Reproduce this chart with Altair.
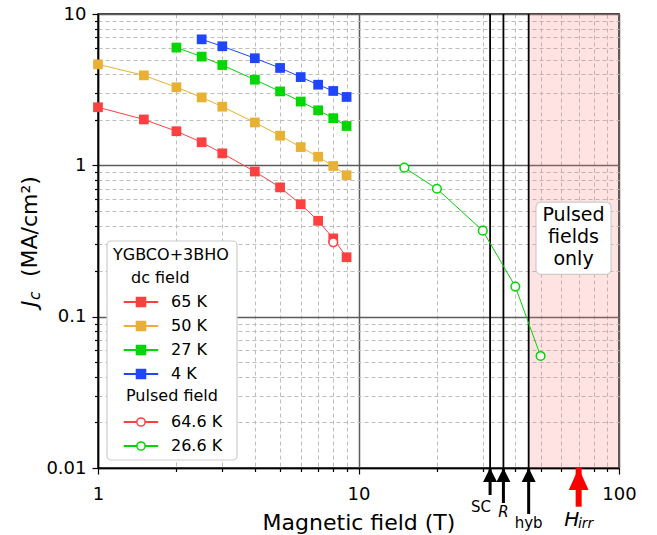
import altair as alt
import pandas as pd

# ---------------- data ----------------
field_dc = [1, 1.5, 2, 2.5, 3, 4, 5, 6, 7, 8, 9]
jc_65K = [2.42, 2.01, 1.68, 1.42, 1.20, 0.91, 0.715, 0.553, 0.43, 0.329, 0.247]
jc_50K = [4.65, 3.93, 3.28, 2.81, 2.44, 1.92, 1.57, 1.32, 1.14, 0.99, 0.86]
field_27K = [2, 2.5, 3, 4, 5, 6, 7, 8, 9]
jc_27K = [6.0, 5.23, 4.6, 3.68, 3.08, 2.64, 2.31, 2.05, 1.82]
field_4K = [2.5, 3, 4, 5, 6, 7, 8, 9]
jc_4K = [6.8, 6.12, 5.1, 4.4, 3.83, 3.41, 3.1, 2.83]
field_p646 = [8]
jc_p646 = [0.31]
field_p266 = [15, 20, 30, 40, 50]
jc_p266 = [0.965, 0.70, 0.37, 0.158, 0.055]

magnet_fields = [32, 36, 45]
magnet_labels = ["SC", "R", "hyb"]
magnet_shaft_end = [0.00663, 0.00587, 0.00497]
H_irr = 70
pulsed_region = [45, 100]

legend_entries = ["dc field", "65 K", "50 K", "27 K", "4 K", "Pulsed field", "64.6 K", "26.6 K"]
legend_headers = ["dc field", "Pulsed field"]

RED, ORANGE, GREEN, BLUE = "#ff4040", "#e9b133", "#00d600", "#2045ff"
FONT = "DejaVu Sans"

x_ticks = [1, 2, 3, 4, 5, 6, 7, 8, 9, 10, 20, 30, 40, 50, 60, 70, 80, 90, 100]
y_ticks = [0.01, 0.02, 0.03, 0.04, 0.05, 0.06, 0.07, 0.08, 0.09,
           0.1, 0.2, 0.3, 0.4, 0.5, 0.6, 0.7, 0.8, 0.9,
           1, 2, 3, 4, 5, 6, 7, 8, 9, 10]

decade = "abs(log(datum.value)/LN10 - round(log(datum.value)/LN10)) < 0.001"


def make_axis(values, **kw):
    return alt.Axis(
        values=values,
        labelExpr=f"{decade} ? format(datum.value, '~g') : ''",
        tickSize={"condition": {"test": decade, "value": 6}, "value": 3.5},
        gridDash={"condition": {"test": decade, "value": []}, "value": [4, 3]},
        gridColor={"condition": {"test": decade, "value": "#5c5c5c"}, "value": "#bdbdbd"},
        gridWidth={"condition": {"test": decade, "value": 1.5}, "value": 1},
        grid=True,
        labelFlush=False,
        **kw,
    )


xs = alt.Scale(type="log", domain=[1, 100], nice=False)
ys = alt.Scale(type="log", domain=[0.01, 10], nice=False)
x_axis = make_axis(x_ticks, title="Magnetic field (T)", labelPadding=11,
                   titleFontSize=22, titleFont=FONT, titleFontWeight="normal",
                   titleBaseline="alphabetic", titleY=61, titleColor="black")
y_axis = make_axis(y_ticks, title=None, labelPadding=6)


def X(field="x"):
    return alt.X(f"{field}:Q", scale=xs, axis=x_axis)


def Y(field="y"):
    return alt.Y(f"{field}:Q", scale=ys, axis=y_axis)


def px_text(s, x, y, size, style, angle=0, baseline="alphabetic"):
    d = pd.DataFrame({"t": [s]})
    kw = dict(font=FONT, fontSize=size, fontStyle=style, align="left",
              baseline=baseline, color="black")
    if angle:
        kw["angle"] = angle
    return alt.Chart(d).mark_text(**kw).encode(x=alt.value(x), y=alt.value(y), text="t:N")


layers = []

# pulsed-field-only region
region_df = pd.DataFrame({"x": [pulsed_region[0]], "x2": [pulsed_region[1]],
                          "y": [0.01], "y2": [10]})
layers.append(alt.Chart(region_df).mark_rect(color="#ff8080", opacity=0.22).encode(
    x=X(), x2="x2:Q", y=Y(), y2="y2:Q"))

# magnet limit lines
mag_df = pd.DataFrame({"x": magnet_fields, "label": magnet_labels,
                       "y": [0.01] * 3, "y2": [10] * 3, "yend": magnet_shaft_end})
layers.append(alt.Chart(mag_df).mark_rule(color="black", strokeWidth=1.8).encode(
    x=X(), y=Y(), y2="y2:Q"))

# dc series
series_dc = [("65 K", field_dc, jc_65K, RED), ("50 K", field_dc, jc_50K, ORANGE),
             ("27 K", field_27K, jc_27K, GREEN), ("4 K", field_4K, jc_4K, BLUE)]
for name, fx, fy, col in series_dc:
    df = pd.DataFrame({"x": fx, "y": fy})
    base = alt.Chart(df)
    layers.append(base.mark_line(color=col, strokeWidth=1).encode(x=X(), y=Y()))
    layers.append(base.mark_point(shape="square", filled=True, color=col, size=95,
                                  opacity=1).encode(x=X(), y=Y()))

series_p = [("64.6 K", field_p646, jc_p646, RED), ("26.6 K", field_p266, jc_p266, GREEN)]
for name, fx, fy, col in series_p:
    df = pd.DataFrame({"x": fx, "y": fy})
    base = alt.Chart(df)
    layers.append(base.mark_line(color=col, strokeWidth=1).encode(x=X(), y=Y()))
    layers.append(base.mark_point(shape="circle", filled=True, fill="white", stroke=col,
                                  strokeWidth=1.5, size=75, opacity=1).encode(x=X(), y=Y()))

# "Pulsed fields only" box
box_df = pd.DataFrame({"x": [48.0], "x2": [93.2], "y": [0.572], "y2": [0.1905]})
layers.append(alt.Chart(box_df).mark_rect(fill="white", stroke="#cccccc", strokeWidth=1.2,
                                          cornerRadius=5).encode(
    x=X(), x2="x2:Q", y=Y(), y2="y2:Q"))
boxtxt_df = pd.DataFrame({"x": [66.9], "y": [0.467], "t": ["Pulsed\nfields\nonly"]})
layers.append(alt.Chart(boxtxt_df).mark_text(font=FONT, fontSize=19, lineBreak="\n",
                                             lineHeight=21.7, baseline="middle",
                                             align="center", color="black").encode(
    x=X(), y=Y(), text="t:N"))

# arrows below the axis
HEAD = "M0,-1L1,1L-1,1Z"
layers.append(alt.Chart(mag_df).mark_rule(color="black", strokeWidth=3).encode(
    x=X(), y=Y(), y2="yend:Q"))
head_df = pd.DataFrame({"x": magnet_fields, "y": [0.00899] * 3})
layers.append(alt.Chart(head_df).mark_point(shape=HEAD, filled=True, color="black",
                                            size=196, opacity=1).encode(x=X(), y=Y()))
irr_df = pd.DataFrame({"x": [H_irr], "y": [0.01], "yend": [0.00555], "yh": [0.00846]})
layers.append(alt.Chart(irr_df).mark_rule(color="red", strokeWidth=6).encode(
    x=X(), y=Y(), y2="yend:Q"))
layers.append(alt.Chart(irr_df).mark_point(shape="M0,-1L0.9,1L-0.9,1Z", filled=True,
                                           color="red", size=484, opacity=1).encode(
    x=X(), y=Y("yh")))

# arrow labels
lab_dx = [-9, 0, 0]
lab_dy = [39, 44, 55]
lab_style = ["normal", "italic", "normal"]
for i in range(3):
    d = pd.DataFrame({"x": [magnet_fields[i]], "y": [0.01], "t": [magnet_labels[i]]})
    layers.append(alt.Chart(d).mark_text(font=FONT, fontSize=15, fontStyle=lab_style[i],
                                         dx=lab_dx[i], dy=lab_dy[i], baseline="middle",
                                         align="center", color="black").encode(
        x=X(), y=Y(), text="t:N"))
d = pd.DataFrame({"x": [H_irr], "y": [0.01], "t": ["H"]})
layers.append(alt.Chart(d).mark_text(font=FONT, fontSize=20, fontStyle="italic", dx=-7,
                                     dy=52, baseline="middle", align="center",
                                     color="black").encode(x=X(), y=Y(), text="t:N"))
d = pd.DataFrame({"x": [H_irr], "y": [0.01], "t": ["irr"]})
layers.append(alt.Chart(d).mark_text(font=FONT, fontSize=14, fontStyle="italic", dx=7,
                                     dy=56, baseline="middle", align="center",
                                     color="black").encode(x=X(), y=Y(), text="t:N"))

# y-axis title pieces (rotated)
layers.append(px_text("J", -61, 293, 22, "italic", 270))
layers.append(px_text("c", -58, 286, 15.4, "italic", 270))
layers.append(px_text("(MA/cm²)", -61, 263, 22, "normal", 270))

# legend frame and group headers
frame_df = pd.DataFrame({"t": [""]})
layers.append(alt.Chart(frame_df).mark_rect(fill="white", stroke="#cccccc", strokeWidth=1.2,
                                            cornerRadius=4).encode(
    x=alt.value(9), x2=alt.value(139), y=alt.value(227), y2=alt.value(446)))
layers.append(px_text(legend_headers[0], 33, 264, 16, "normal", 0, "middle"))
layers.append(px_text(legend_headers[1], 28, 382, 16, "normal", 0, "middle"))

# legend entries (built by Vega-Lite from explicit scale domains)
SQ = "M-2,-0.035H2V0.035H-2Z M-0.55,-0.55H0.55V0.55H-0.55Z"
CI = ("M-2,-0.035H-0.5V0.035H-2Z M0.5,-0.035H2V0.035H0.5Z "
      "M0.5,0A0.5,0.5 0 1,1 -0.5,0A0.5,0.5 0 1,1 0.5,0Z")
shape_range = [SQ, SQ, SQ, SQ, SQ, SQ, CI, CI]
fill_range = ["transparent", RED, ORANGE, GREEN, BLUE, "transparent", "white", "white"]
stroke_range = ["transparent", RED, ORANGE, GREEN, BLUE, "transparent", RED, GREEN]

leg = alt.Legend(
    title="YGBCO+3BHO", orient="none", legendX=9, legendY=227,
    titleFont=FONT, titleFontSize=16, titleFontWeight="normal", titleColor="black",
    labelFont=FONT, labelFontSize=16, labelColor="black",
    labelExpr="datum.label == 'dc field' || datum.label == 'Pulsed field' ? '' : datum.label",
    symbolSize=272, symbolStrokeWidth=1.5, symbolOffset=19, labelOffset=21,
    rowPadding=7, padding=6, titlePadding=6,
)
leg_df = pd.DataFrame({"entry": legend_entries, "x": [1] * 8, "y": [1] * 8})
layers.append(alt.Chart(leg_df).transform_filter("false").mark_point(opacity=1, filled=True).encode(
    x=X(), y=Y(),
    shape=alt.Shape("entry:N", scale=alt.Scale(domain=legend_entries, range=shape_range), legend=leg),
    fill=alt.Fill("entry:N", scale=alt.Scale(domain=legend_entries, range=fill_range), legend=leg),
    stroke=alt.Stroke("entry:N", scale=alt.Scale(domain=legend_entries, range=stroke_range), legend=leg),
))

chart = alt.layer(*layers).properties(
    width=521, height=454,
    padding={"left": 98, "top": 14, "right": 38, "bottom": 67},
    autosize=alt.AutoSizeParams(type="none"),
).configure_view(stroke="black", strokeWidth=1.5).configure_axis(
    domainColor="black", domainWidth=1.5, tickColor="black", tickWidth=1.2,
    labelFont=FONT, labelFontSize=18, labelColor="black",
)

chart.save("out.html", embed_options={"renderer": "svg", "actions": False})
